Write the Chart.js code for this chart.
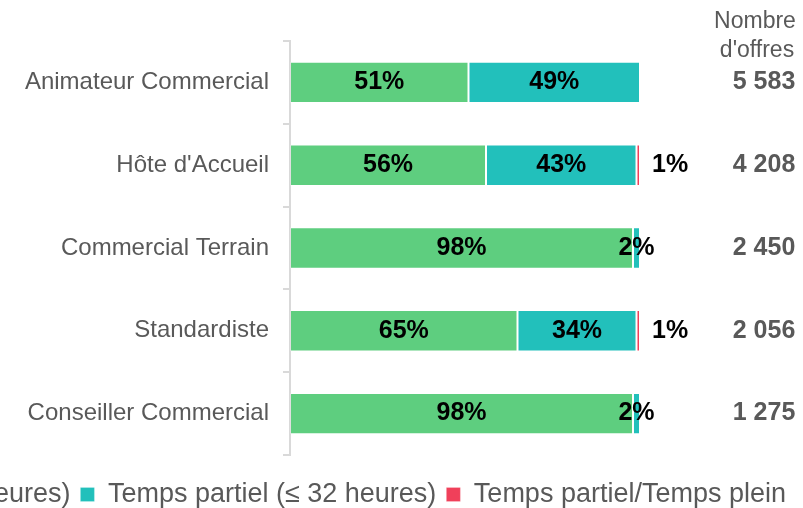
<!DOCTYPE html>
<html>
<head>
<meta charset="utf-8">
<script src="https://cdn.jsdelivr.net/npm/chart.js@4.4.0/dist/chart.umd.min.js"></script>
<style>
  html, body { margin: 0; padding: 0; background: #fff; overflow: hidden; }
  #wrap { position: relative; width: 803px; height: 508px; overflow: hidden; }
  #chart { position: absolute; left: -500px; top: 0; }
</style>
</head>
<body>
<div id="wrap"><canvas id="chart" width="1296" height="518"></canvas></div>
<script>
// Data
const categories = ['Animateur Commercial', "Hôte d'Accueil", 'Commercial Terrain', 'Standardiste', 'Conseiller Commercial'];
const seriesNames = ['Temps plein (> 32 heures)', 'Temps partiel (≤ 32 heures)', 'Temps partiel/Temps plein'];
const tempsPlein = [51, 56, 98, 65, 98];
const tempsPartiel = [49, 43, 2, 34, 2];
const mixte = [0, 1, 0, 1, 0];
const nombreOffres = [5583, 4208, 2450, 2056, 1275];

const FONT = "'Liberation Sans', Arial, sans-serif";
const GREY = '#595959';
const LEFT_SHIFT = 500; // canvas starts off-screen so the legend is clipped like the reference

function formatNombre(n) {
    return String(n).replace(/\B(?=(\d{3})+(?!\d))/g, ' ');
}

// Draws the percentage labels and the "Nombre d'offres" column
const labelsPlugin = {
    id: 'labels',
    afterDatasetsDraw(chart) {
        const ctx = chart.ctx;
        const area = chart.chartArea;
        ctx.save();
        ctx.textBaseline = 'middle';
        chart.data.datasets.forEach((ds, di) => {
            const meta = chart.getDatasetMeta(di);
            meta.data.forEach((bar, i) => {
                const v = ds.data[i];
                if (!v) return;
                ctx.font = 'bold 25px ' + FONT;
                ctx.fillStyle = '#000';
                if (di === 2) {
                    ctx.textAlign = 'left';
                    ctx.fillText(v + '%', area.right + 12, bar.y);
                } else {
                    const c = bar.getCenterPoint();
                    ctx.textAlign = 'center';
                    ctx.fillText(v + '%', c.x, c.y);
                }
            });
        });
        // offers column
        const meta0 = chart.getDatasetMeta(0);
        ctx.fillStyle = GREY;
        ctx.textAlign = 'center';
        ctx.font = 'bold 25px ' + FONT;
        meta0.data.forEach((bar, i) => {
            ctx.fillText(formatNombre(nombreOffres[i]), area.right + 124, bar.y);
        });
        ctx.font = '23px ' + FONT;
        ctx.fillText('Nombre', area.right + 115, 22);
        ctx.fillText("d'offres", area.right + 117, 51);
        ctx.restore();
    }
};

const colors = ['#5ECE7F', '#22C0BB', '#F0405A'];
const seriesData = [tempsPlein, tempsPartiel, mixte];

new Chart(document.getElementById('chart'), {
    type: 'bar',
    data: {
        labels: categories,
        datasets: seriesNames.map((name, k) => ({
            label: name,
            data: seriesData[k],
            backgroundColor: colors[k],
            borderColor: 'rgba(255,255,255,0.2)',
            borderWidth: 1,
            borderSkipped: false,
            categoryPercentage: 1,
            barPercentage: 0.5
        }))
    },
    options: {
        indexAxis: 'y',
        responsive: false,
        animation: false,
        layout: { padding: { top: 41, bottom: 0, left: 0, right: 0 } },
        scales: {
            x: {
                stacked: true, min: 0, max: 100,
                grid: { display: false },
                border: { display: false },
                ticks: { display: false },
                afterFit(scale) { scale.height = 16; }
            },
            y: {
                stacked: true,
                position: 'left',
                grid: { display: true, drawOnChartArea: false, drawTicks: true, tickLength: 7, color: '#d9d9d9', lineWidth: 2 },
                border: { display: true, color: '#d9d9d9', width: 2 },
                ticks: { color: GREY, font: { family: FONT, size: 24 }, padding: 14 },
                afterFit(scale) { scale.width = LEFT_SHIFT + 290; }
            },
            y2: {
                type: 'category',
                position: 'right',
                grid: { display: false },
                border: { display: false },
                ticks: { display: false },
                afterFit(scale) { scale.width = 156; }
            }
        },
        plugins: {
            legend: {
                position: 'bottom',
                align: 'end',
                labels: {
                    boxWidth: 14,
                    boxHeight: 14,
                    padding: 10,
                    color: GREY,
                    font: { family: FONT, size: 27 }
                }
            },
            tooltip: { enabled: false }
        }
    },
    plugins: [labelsPlugin]
});
</script>
</body>
</html>
